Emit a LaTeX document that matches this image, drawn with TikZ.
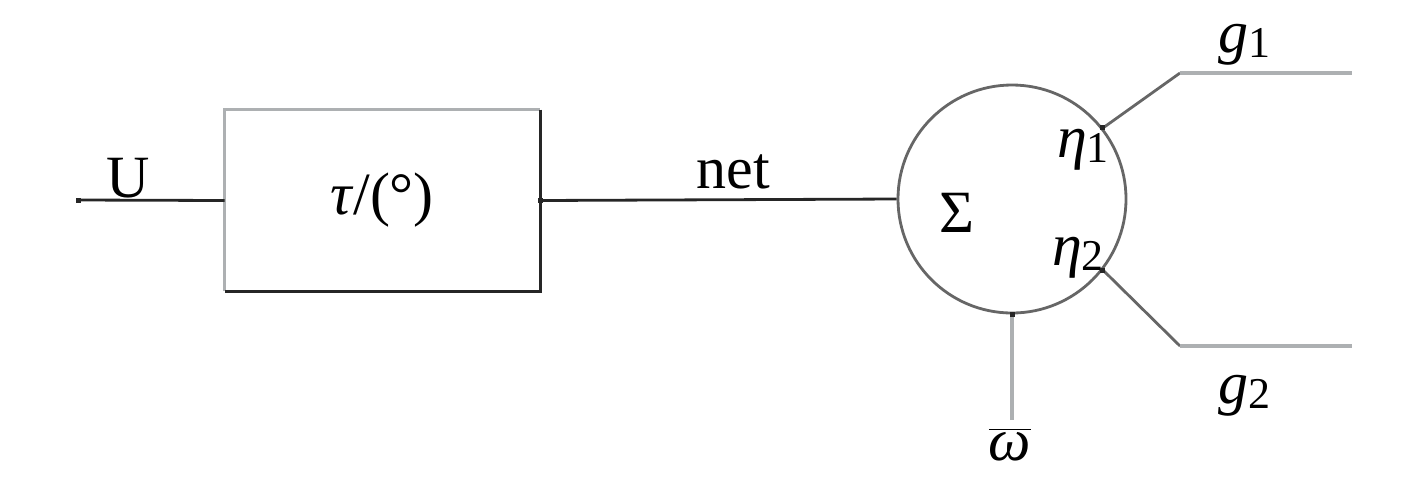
\documentclass[tikz,border=0pt]{standalone}
\usepackage{fontspec}
\setmainfont{Liberation Serif}
\newcommand{\mysub}[1]{\raisebox{-0.08em}{\fontsize{22}{26}\selectfont #1}}
\begin{document}
\begin{tikzpicture}[x=0.5pt,y=-0.5pt,
  lbl/.style={inner sep=0pt,font=\fontsize{30}{36}\selectfont},
  dark/.style={draw=black!85,line width=1.4pt},
  grey/.style={draw=gray!80!cyan!40!black!45,line width=1.6pt},
  greyc/.style={draw=black!60,line width=1.4pt},
  dotm/.style={fill=black!85,minimum size=2.5pt,inner sep=0pt,outer sep=0pt}]
\useasboundingbox (0,0) rectangle (1417,483);
% box
\node[minimum width=157.5pt,minimum height=90.5pt,inner sep=0pt] (box) at (382.5,200.5) {};
\draw[grey] (box.south west) -- (box.north west) -- (box.north east);
\draw[dark] (box.north east) -- (box.south east) -- (box.south west);
\node[lbl] (tau) at (382,200) {\textit{τ}/(°)};
% circle
\node[circle,greyc,minimum size=114pt,inner sep=0pt] (sum) at (1012,199) {};
\node[lbl] (sig) at (957,213) {Σ};
\node[lbl] (eta1) at (1083,150) {\textit{η}\mysub{1}};
\node[lbl] (eta2) at (1078,258) {\textit{η}\mysub{2}};
% left input
\coordinate (uend) at (78,200);
\draw[dark] (uend) -- (box.west);
\node[dotm] at (uend) {};
\node[lbl] (U) at (128,178) {U};
% net
\draw[dark] (sum.west) -- (box.east);
\node[dotm] at (box.east) {};
\node[lbl] (net) at (733,172) {net};
% g1
\coordinate (g1a) at (1180,73);
\coordinate (g1b) at (1352,73);
\draw[greyc] (sum.38) -- (g1a);
\draw[grey] (g1a) -- (g1b);
\node[dotm] at (sum.38) {};
\node[lbl] (g1) at (1244,45) {\textit{g}\mysub{1}};
% g2
\coordinate (g2a) at (1180,346);
\coordinate (g2b) at (1352,346);
\draw[greyc] (sum.-38) -- (g2a);
\draw[grey] (g2a) -- (g2b);
\node[dotm] at (sum.-38) {};
\node[lbl] (g2) at (1244,396) {\textit{g}\mysub{2}};
% omega
\coordinate (wend) at (1012,420);
\draw[grey] (wend) -- (sum.south);
\node[dotm] at (sum.south) {};
\node[lbl] (w) at (1010,445) {$\overline{\mbox{\textit{ω}}}$};
\end{tikzpicture}
\end{document}
